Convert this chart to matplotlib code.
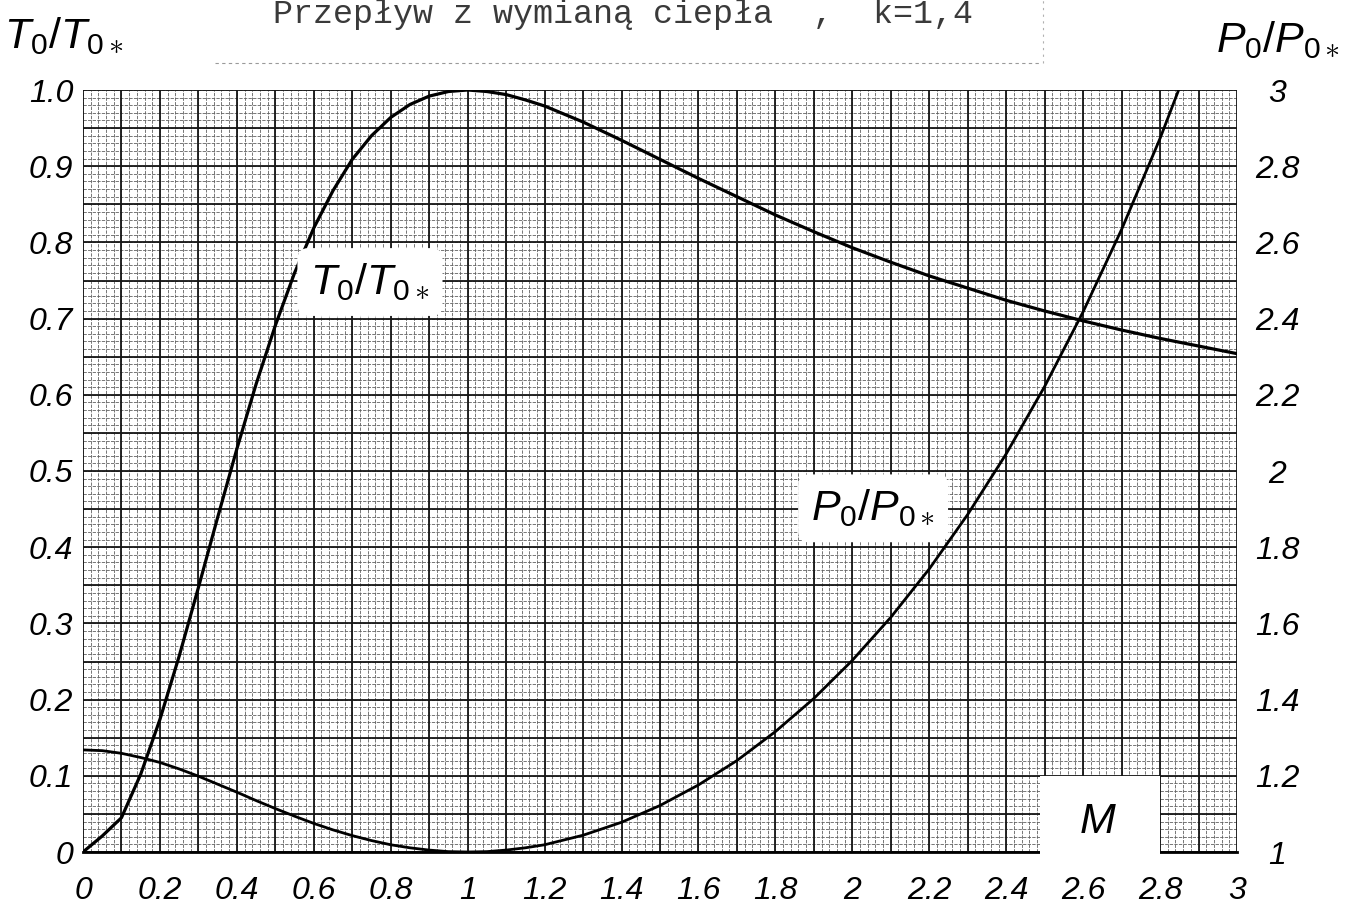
import numpy as np
import matplotlib
matplotlib.use("Agg")
import matplotlib.pyplot as plt
from matplotlib import font_manager as fm
from matplotlib.patches import Rectangle

# ---------------- data ----------------
mach = [0.0, 0.05, 0.1, 0.15, 0.2, 0.25, 0.3, 0.35, 0.4, 0.45, 0.5, 0.55, 0.6, 0.65,
        0.7, 0.75, 0.8, 0.85, 0.9, 0.95, 1.0, 1.05, 1.1, 1.15, 1.2, 1.3, 1.4, 1.5,
        1.6, 1.7, 1.8, 1.9, 2.0, 2.1, 2.2, 2.3, 2.4, 2.5, 2.6, 2.7, 2.8, 2.9, 3.0]
t0_ratio = [0.0, 0.021, 0.045, 0.102, 0.174, 0.257, 0.347, 0.439, 0.529, 0.614, 0.691,
            0.760, 0.819, 0.868, 0.909, 0.940, 0.964, 0.981, 0.992, 0.998, 1.000, 0.998,
            0.994, 0.987, 0.979, 0.958, 0.934, 0.909, 0.884, 0.860, 0.836, 0.814, 0.793,
            0.774, 0.756, 0.740, 0.724, 0.710, 0.697, 0.685, 0.674, 0.664, 0.654]
p0_ratio = [1.268, 1.266, 1.259, 1.248, 1.235, 1.218, 1.199, 1.178, 1.157, 1.135, 1.114,
            1.094, 1.075, 1.058, 1.043, 1.030, 1.019, 1.011, 1.005, 1.001, 1.000, 1.001,
            1.005, 1.011, 1.019, 1.044, 1.078, 1.122, 1.176, 1.240, 1.316, 1.403, 1.503,
            1.616, 1.743, 1.886, 2.045, 2.222, 2.418, 2.634, 2.873, 3.136, 3.424]

x_ticks = [0, 0.2, 0.4, 0.6, 0.8, 1, 1.2, 1.4, 1.6, 1.8, 2, 2.2, 2.4, 2.6, 2.8, 3]
x_labels = ["0", "0.2", "0.4", "0.6", "0.8", "1", "1.2", "1.4", "1.6", "1.8",
            "2", "2.2", "2.4", "2.6", "2.8", "3"]
yl_ticks = [0, 0.1, 0.2, 0.3, 0.4, 0.5, 0.6, 0.7, 0.8, 0.9, 1.0]
yl_labels = ["0", "0.1", "0.2", "0.3", "0.4", "0.5", "0.6", "0.7", "0.8", "0.9", "1.0"]
yr_ticks = [1, 1.2, 1.4, 1.6, 1.8, 2, 2.2, 2.4, 2.6, 2.8, 3]
yr_labels = ["1", "1.2", "1.4", "1.6", "1.8", "2", "2.2", "2.4", "2.6", "2.8", "3"]

title = "Przepływ z wymianą ciepła  ,  k=1,4"

# ---------------- fonts ----------------
names = {f.name for f in fm.fontManager.ttflist}
NF = "Liberation Sans" if "Liberation Sans" in names else "DejaVu Sans"
MONO = "Liberation Mono" if "Liberation Mono" in names else "DejaVu Sans Mono"

plt.rcParams["mathtext.fontset"] = "custom"
plt.rcParams["mathtext.rm"] = NF
plt.rcParams["mathtext.it"] = NF + ":italic"
plt.rcParams["mathtext.bf"] = NF + ":bold"

W, H = 1345, 909
fig = plt.figure(figsize=(W / 100, H / 100), dpi=100)
fig.patch.set_facecolor("white")

L, R, B, T = 83, 1237, 852, 90
ax = fig.add_axes([L / W, 1 - B / H, (R - L) / W, (B - T) / H])
ax.set_xlim(0, 3)
ax.set_ylim(0, 1)
ax.set_facecolor("white")

# graph-paper grid
for v in np.arange(0, 3.0001, 0.02):
    ax.axvline(v, color="#606060", lw=0.6, ls=(0, (4, 1.5)), zorder=1)
for h in np.arange(0, 1.0001, 0.01):
    ax.axhline(h, color="#606060", lw=0.6, ls=(0, (4, 1.5)), zorder=1)
for v in np.arange(0, 3.0001, 0.1):
    ax.axvline(v, color="#151515", lw=1.3, zorder=2)
for h in np.arange(0, 1.0001, 0.05):
    ax.axhline(h, color="#151515", lw=1.3, zorder=2)

ax.plot(mach, t0_ratio, color="black", lw=2.3, zorder=5, solid_joinstyle="round")

ax2 = ax.twinx()
ax2.set_ylim(1, 3)
ax2.plot(mach, p0_ratio, color="black", lw=2.0, zorder=5, solid_joinstyle="round")

for a in (ax, ax2):
    for s in a.spines.values():
        s.set_visible(False)
ax.spines["bottom"].set_visible(True)
ax.spines["bottom"].set_linewidth(2.0)

fs = 23
ax.set_xticks(x_ticks)
ax.set_xticklabels(x_labels, fontsize=fs, fontstyle="italic", family=NF)
ax.set_yticks(yl_ticks)
ax.set_yticklabels(yl_labels, fontsize=fs, fontstyle="italic", family=NF)
ax2.set_yticks(yr_ticks)
ax2.set_yticklabels(yr_labels, fontsize=fs, fontstyle="italic", family=NF)
ax.tick_params(axis="x", length=0, pad=17)
ax.tick_params(axis="y", length=0, pad=7)
ax2.tick_params(axis="y", length=0, pad=29)
for lab in ax2.get_yticklabels():
    lab.set_horizontalalignment("center")

# axis titles
lab_fs = 31
fig.text(4 / W, 1 - 36 / H, r"$T_{\mathrm{0}}/T_{\mathrm{0}\ast}$", fontsize=lab_fs,
         ha="left", va="center")
fig.text(1216 / W, 1 - 40 / H, r"$P_{\mathrm{0}}/P_{\mathrm{0}\ast}$", fontsize=lab_fs,
         ha="left", va="center")

# inline labels
ax.text(0.746, 0.748, r"$T_{\mathrm{0}}/T_{\mathrm{0}\ast}$", fontsize=lab_fs,
        ha="center", va="center", zorder=8,
        bbox=dict(boxstyle="round,pad=0.3,rounding_size=0.25", fc="white", ec="none"))
ax.text(2.054, 0.451, r"$P_{\mathrm{0}}/P_{\mathrm{0}\ast}$", fontsize=lab_fs,
        ha="center", va="center", zorder=8,
        bbox=dict(boxstyle="round,pad=0.3,rounding_size=0.25", fc="white", ec="none"))

# M box
fig.patches.append(Rectangle((1040 / W, 1 - 860 / H), 120 / W, 84 / H,
                             transform=fig.transFigure, fc="white", ec="none", zorder=10))
fig.text(1098 / W, 1 - 822 / H, "M", fontsize=lab_fs, fontstyle="italic", family=NF,
         ha="center", va="center", zorder=11)

# title
fig.text(623 / W, 1 - 23 / H, title, fontsize=24, family=MONO, color="#3a3a3a",
         ha="center", va="baseline")
fig.add_artist(plt.Line2D([215 / W, 1040 / W], [1 - 63 / H, 1 - 63 / H],
                          transform=fig.transFigure, color="#9a9a9a", lw=0.8, ls=(0, (3, 3))))
fig.add_artist(plt.Line2D([1043 / W, 1043 / W], [1 - 63 / H, 1.0],
                          transform=fig.transFigure, color="#b0b0b0", lw=0.8, ls=(0, (2, 4))))

fig.savefig("out.png", dpi=100, facecolor="white")
